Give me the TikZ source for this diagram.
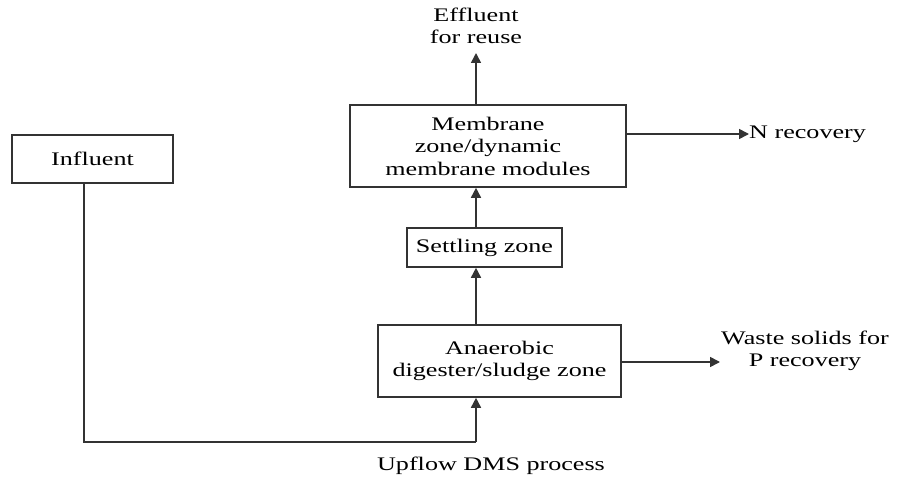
\documentclass[tikz,border=0pt]{standalone}
\usepackage{fontspec}
\setmainfont{Liberation Serif}[FakeStretch=1.36]
\usetikzlibrary{arrows.meta}
\begin{document}
\begin{tikzpicture}[x=1pt,y=-1pt,
  box/.style={draw=black!80,line width=1.6pt,inner sep=0pt,align=center},
  lbl/.style={inner sep=0pt,align=center},
  flow/.style={draw=black!80,line width=1.6pt,-{Triangle[length=10pt,width=10pt]}},
  pipe/.style={draw=black!80,line width=1.6pt},
  font=\fontsize{19.2}{22.5}\selectfont]
\useasboundingbox (0,0) rectangle (909,481);
% boxes
\node[box,minimum width=161pt,minimum height=48pt] (inf) at (92.5,159) {Influent};
\node[box,minimum width=276pt,minimum height=82pt] (mem) at (488,146) {Membrane\\zone/dynamic\\membrane modules};
\node[box,minimum width=155pt,minimum height=39pt] (set) at (484.5,247.5) {Settling zone};
\node[box,minimum width=243pt,minimum height=72pt] (ana) at (499.5,361) {Anaerobic\\digester/sludge zone};
% labels
\node[lbl] (eff) at (476,26) {Effluent\\for reuse};
\node[lbl,anchor=west] (nrec) at (749,134) {N recovery};
\node[lbl,anchor=west] (waste) at (721,351) {Waste solids for\\P recovery};
\node[lbl] (upf) at (491,466) {Upflow DMS process};
% helper coordinates
\coordinate (ax) at (476,0);
\coordinate (effin) at (476,53);
\coordinate (c1) at (84,442);
\coordinate (c2) at (476,442);
\coordinate (wastein) at (720,362);
% connectors
\draw[pipe] (inf.south -| c1) -- (c1) -- (c2);
\draw[flow] (c2) -- (ana.south -| c2);
\draw[flow] (ana.north -| ax) -- (set.south -| ax);
\draw[flow] (set.north -| ax) -- (mem.south -| ax);
\draw[flow] (mem.north -| ax) -- (effin);
\draw[flow] (mem.east |- nrec.west) -- (nrec.west);
\draw[flow] (ana.east |- wastein) -- (wastein);
\end{tikzpicture}
\end{document}
